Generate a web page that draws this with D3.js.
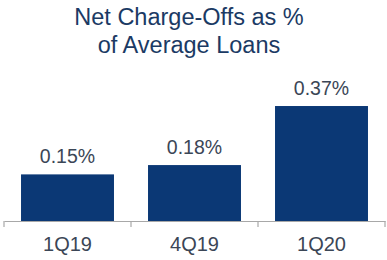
<!DOCTYPE html>
<html><head><meta charset="utf-8">
<script src="https://cdn.jsdelivr.net/npm/d3@7"></script>
<style>html,body{margin:0;padding:0;background:#fff;}svg{display:block;}</style>
</head><body>
<svg id="chart" width="387" height="260"></svg>
<script>
const titleLines = ["Net Charge-Offs as %", "of Average Loans"];
const categories = ["1Q19", "4Q19", "1Q20"];
const values = [0.15, 0.18, 0.37];
const valueLabels = ["0.15%", "0.18%", "0.37%"];

const W = 387, H = 260;
const svg = d3.select("#chart");
const font = "'Liberation Sans', Arial, sans-serif";
const baseY = 221;

const x = d3.scaleBand().domain(categories).range([4, 385])
  .paddingInner(0.268).paddingOuter(0.134);
const y = d3.scaleLinear().domain([0, 0.4]).range([baseY, baseY - 124.3]);

// title
svg.append("g").selectAll("text").data(titleLines).join("text")
  .attr("x", 189).attr("y", (d, i) => 25 + i * 28)
  .attr("text-anchor", "middle")
  .attr("font-family", font).attr("font-size", 23.5)
  .attr("fill", "#1b3a64")
  .text(d => d);

// bars
svg.append("g").selectAll("rect").data(values).join("rect")
  .attr("x", (d, i) => x(categories[i]))
  .attr("width", x.bandwidth())
  .attr("y", d => y(d))
  .attr("height", d => baseY - y(d))
  .attr("fill", "#0b3875");

// value labels
svg.append("g").selectAll("text").data(values).join("text")
  .attr("x", (d, i) => x(categories[i]) + x.bandwidth() / 2)
  .attr("y", d => y(d) - 11)
  .attr("text-anchor", "middle")
  .attr("font-family", font).attr("font-size", 19.5)
  .attr("fill", "#3b4656")
  .text((d, i) => valueLabels[i]);

// axis
const axis = svg.append("g").attr("transform", `translate(0,${baseY})`)
  .call(d3.axisBottom(x).tickSize(0).tickPadding(16));
axis.select(".domain").attr("stroke", "#a8a8a8").attr("stroke-width", 1.2);
axis.selectAll(".tick text")
  .attr("font-family", font).attr("font-size", 20)
  .attr("fill", "#3b4656");
const r0 = x.range()[0];
const bounds = d3.range(categories.length + 1).map(i => r0 + i * x.step());
axis.selectAll("line.bt").data(bounds).join("line").attr("class", "bt")
  .attr("x1", d => d).attr("x2", d => d)
  .attr("y1", 0).attr("y2", 6)
  .attr("stroke", "#a8a8a8").attr("stroke-width", 1.2);
</script>
</body></html>
